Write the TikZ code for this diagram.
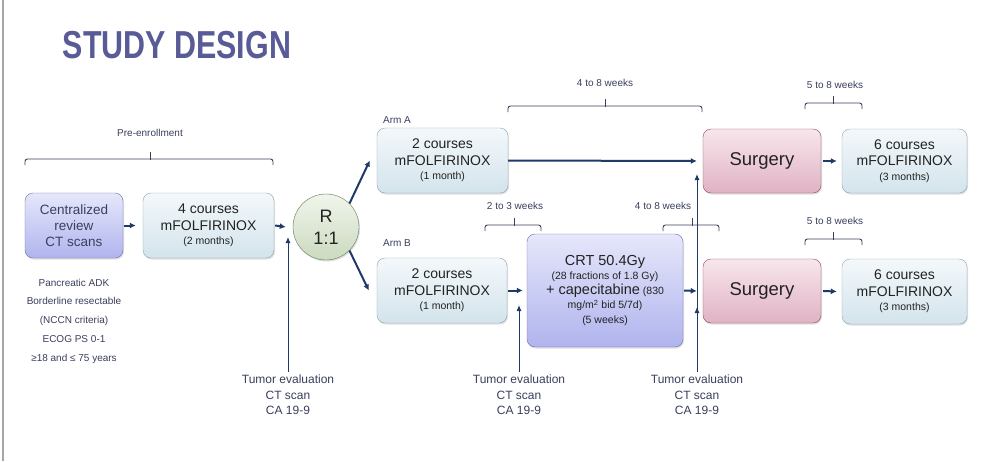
\documentclass[tikz,border=0pt]{standalone}
\usepackage{fontspec}
\setmainfont{Liberation Sans}
\usepackage{xcolor}
\usetikzlibrary{arrows.meta,shadows}
\definecolor{titleblue}{HTML}{595B97}
\definecolor{navy}{HTML}{1F3A68}
\definecolor{labelgray}{HTML}{3A3F5C}
\definecolor{boxtext}{HTML}{222222}
\definecolor{lavtop}{HTML}{E6E7FB}
\definecolor{lavbot}{HTML}{B0B4ED}
\definecolor{lavline}{HTML}{6A6FAE}
\definecolor{bluetop}{HTML}{F4F8FB}
\definecolor{bluebot}{HTML}{D3E4EC}
\definecolor{blueline}{HTML}{8EA3AE}
\definecolor{pinktop}{HTML}{F8E6EC}
\definecolor{pinkbot}{HTML}{E0B2C4}
\definecolor{pinkline}{HTML}{8C4666}
\definecolor{greentop}{HTML}{F1F5EC}
\definecolor{greenbot}{HTML}{CBDABF}
\definecolor{greenline}{HTML}{5E7B52}
% x1, middle, x2, y of the bracket line
\newcommand{\timebracket}[4]{%
    \draw[bracket] (#1,#4+6) -- (#1,#4) -- (#3,#4) -- (#3,#4+6);
    \draw[bracket] (#2,#4+0.5) -- (#2,#4-7);}

\begin{document}
\begin{tikzpicture}[x=1pt,y=-1pt,
    box/.style={rounded corners=8pt, inner sep=0pt, align=center, text=boxtext,
        drop shadow={opacity=0.25, shadow xshift=1pt, shadow yshift=-1.5pt}},
    lavbox/.style={box, draw=lavline, top color=lavtop, bottom color=lavbot},
    bluebox/.style={box, draw=blueline, top color=bluetop, bottom color=bluebot},
    pinkbox/.style={box, draw=pinkline, top color=pinktop, bottom color=pinkbot},
    big/.style={font=\fontsize{14}{16.5}\selectfont},
    small/.style={font=\fontsize{10}{12}\selectfont, text=labelgray},
    arr/.style={draw=navy, line width=2pt, -{Latex[length=6pt,width=6pt]}},
    uparr/.style={draw=navy, line width=1pt, -{Latex[length=6pt,width=5pt]}},
    bracket/.style={draw=labelgray, line width=0.9pt, rounded corners=2.5pt},
    ]
    \useasboundingbox[fill=white] (0,0) rectangle (988,461);
    \draw[gray!70, line width=1.5pt] (3,0) -- (3,461);

    \node[text=titleblue, font=\fontsize{39}{40}\selectfont\bfseries] (title) at (177,45)
        {\scalebox{0.78}[1]{STUDY DESIGN}};

    \node[small] (pre) at (150,133) {Pre-enrollment};
    \timebracket{25}{150}{273}{159}

    \node[lavbox, minimum width=98pt, minimum height=65pt,
        font=\fontsize{13.5}{16}\selectfont, text=labelgray] (review) at (74,225.5)
        {Centralized\\review\\CT scans};
    \node[bluebox, big, minimum width=131pt, minimum height=65pt] (induction) at (208.5,225.5)
        {4 courses\\mFOLFIRINOX\\[-2pt]{\fontsize{10.5}{12}\selectfont (2 months)}};

    \node[align=center, font=\fontsize{10}{18.75}\selectfont, text=labelgray] (criteria) at (74,321)
        {Pancreatic ADK\\Borderline resectable\\(NCCN criteria)\\ECOG PS 0-1\\≥18 and ≤ 75 years};

    \node[circle, draw=greenline, top color=greentop, bottom color=greenbot, minimum size=66pt,
        align=center, inner sep=0pt, font=\fontsize{18}{22}\selectfont, text=boxtext,
        drop shadow={opacity=0.25, shadow xshift=1pt, shadow yshift=-1.5pt}] (rand) at (326,227)
        {R\\1:1};

    \node[small] (armA) at (397,120) {Arm A};
    \node[small] (armB) at (397,243) {Arm B};

    \node[bluebox, big, minimum width=131pt, minimum height=65pt] (chemoA) at (442.5,160.5)
        {2 courses\\mFOLFIRINOX\\[-2pt]{\fontsize{10.5}{12}\selectfont (1 month)}};
    \node[bluebox, big, minimum width=130pt, minimum height=65pt] (chemoB) at (442,290.5)
        {2 courses\\mFOLFIRINOX\\[-2pt]{\fontsize{10.5}{12}\selectfont (1 month)}};

    \node[lavbox, minimum width=156pt, minimum height=113pt, font=\fontsize{10.5}{14.5}\selectfont] (crt) at (605,290.5)
        {{\fontsize{14.5}{14.5}\selectfont CRT 50.4Gy}\\
         (28 fractions of 1.8 Gy)\\
         {\fontsize{14.5}{14.5}\selectfont + capecitabine} (830\\
         mg/m\textsuperscript{2} bid 5/7d)\\
         (5 weeks)};

    \node[pinkbox, minimum width=118pt, minimum height=64pt, font=\fontsize{18.5}{20}\selectfont] (surgA) at (762,161) {Surgery};
    \node[pinkbox, minimum width=118pt, minimum height=64pt, font=\fontsize{18.5}{20}\selectfont] (surgB) at (762,291) {Surgery};

    \node[bluebox, big, minimum width=125pt, minimum height=64pt] (adjA) at (904.5,161)
        {6 courses\\mFOLFIRINOX\\[-2pt]{\fontsize{10.5}{12}\selectfont (3 months)}};
    \node[bluebox, big, minimum width=125pt, minimum height=65pt] (adjB) at (904.5,291.5)
        {6 courses\\mFOLFIRINOX\\[-2pt]{\fontsize{10.5}{12}\selectfont (3 months)}};

    \node[small] (gapA) at (605,83) {4 to 8 weeks};
    \timebracket{508}{605}{702}{106}
    \node[small] (postA) at (835,85) {5 to 8 weeks};
    \timebracket{805}{833}{862}{103}
    \node[small] (gapB1) at (515,206) {2 to 3 weeks};
    \timebracket{485}{514}{541}{225}
    \node[small] (gapB2) at (663,206) {4 to 8 weeks};
    \timebracket{663}{692}{719}{225}
    \node[small] (postB) at (835,221) {5 to 8 weeks};
    \timebracket{805}{833}{862}{239}

    \node[align=center, font=\fontsize{12}{15.5}\selectfont, text=labelgray] (eval1) at (288,395)
        {Tumor evaluation\\CT scan\\CA 19-9};
    \node[align=center, font=\fontsize{12}{15.5}\selectfont, text=labelgray] (eval2) at (519,395)
        {Tumor evaluation\\CT scan\\CA 19-9};
    \node[align=center, font=\fontsize{12}{15.5}\selectfont, text=labelgray] (eval3) at (697,395)
        {Tumor evaluation\\CT scan\\CA 19-9};

    \coordinate (t1) at (288,237);
    \coordinate (t2) at (519,305);
    \coordinate (t3) at (697,307);
    \coordinate (t4) at (697,174);

    \draw[arr] ([xshift=1pt]review.east) -- ([xshift=-7pt]induction.west);
    \draw[arr] ([xshift=1pt]induction.east) -- ([xshift=-7pt]rand.west);
    \draw[arr] (rand.45) -- ([xshift=-7pt]chemoA.west);
    \draw[arr] (rand.-45) -- ([xshift=-8pt]chemoB.west);
    \draw[arr] (chemoA.east) -- ([xshift=-6pt]surgA.west);
    \draw[arr] ([xshift=2pt]surgA.east) -- ([xshift=-5pt]adjA.west);
    \draw[arr] ([xshift=1pt]chemoB.east) -- ([xshift=-4pt]crt.west);
    \draw[arr] ([xshift=1pt]crt.east) -- ([xshift=-6pt]surgB.west);
    \draw[arr] ([xshift=2pt]surgB.east) -- ([xshift=-5pt]adjB.west);

    \draw[uparr] (eval1.north) -- (t1);
    \draw[uparr] (eval2.north) -- (t2);
    \draw[uparr] (eval3.north) -- (t3);
    \draw[uparr] (eval3.north) -- (t4);
\end{tikzpicture}
\end{document}
